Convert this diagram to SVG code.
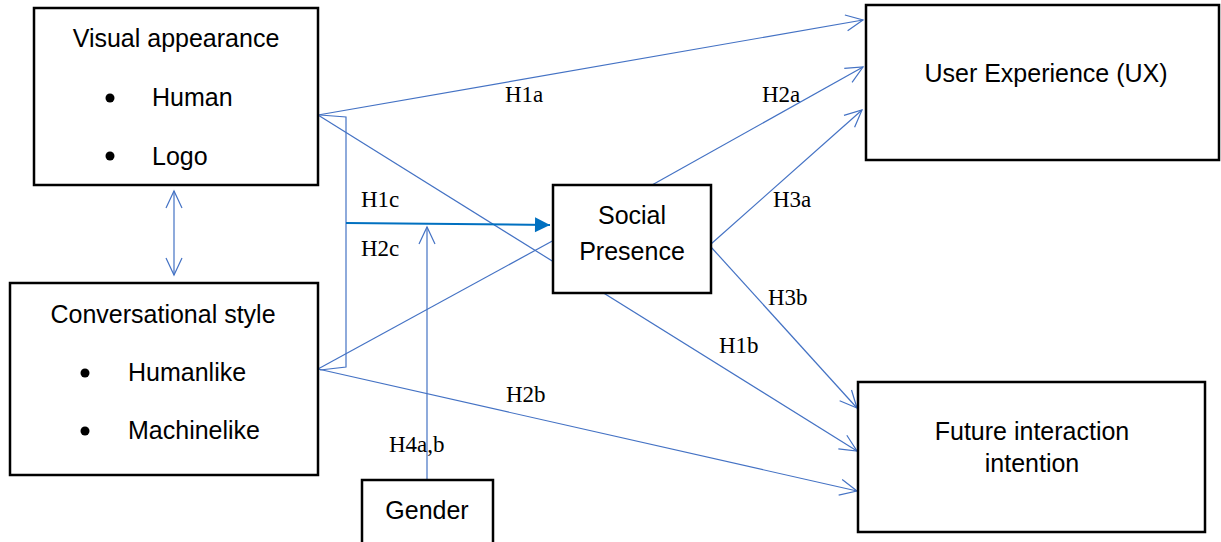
<svg xmlns="http://www.w3.org/2000/svg" width="1221" height="542" viewBox="0 0 1221 542">
<style>
.box{fill:#fff;stroke:#000;stroke-width:2.5}
.t{font-family:"Liberation Sans",Arial,sans-serif;font-size:25px;fill:#000}
.c{text-anchor:middle}
.lbl{font-family:"Liberation Serif","Times New Roman",serif;font-size:23px;fill:#000}
.ln{fill:none;stroke:#4472C4;stroke-width:1.2}
.dot{fill:#000}
</style>
<defs>
<marker id="open" viewBox="-18 -10 20 20" refX="0" refY="0" markerWidth="20" markerHeight="20" markerUnits="userSpaceOnUse" orient="auto-start-reverse">
<path d="M-17,-8 L0,0 L-17,8" fill="none" stroke="#4472C4" stroke-width="1.2"/>
</marker>
<marker id="solid" viewBox="-16 -8 17 16" refX="0" refY="0" markerWidth="17" markerHeight="16" markerUnits="userSpaceOnUse" orient="auto">
<path d="M-15,-7.5 L0,0 L-15,7.5 Z" fill="#0070C0"/>
</marker>
</defs>
<g id="connectors">
<line class="ln" x1="318" y1="115" x2="863" y2="20" marker-end="url(#open)"/>
<line class="ln" x1="318" y1="115" x2="857" y2="451" marker-end="url(#open)"/>
<line class="ln" x1="652" y1="185" x2="863" y2="67" marker-end="url(#open)"/>
<line class="ln" x1="711" y1="244" x2="862" y2="110" marker-end="url(#open)"/>
<line class="ln" x1="711" y1="247" x2="857" y2="408" marker-end="url(#open)"/>
<line class="ln" x1="318" y1="369" x2="556" y2="239"/>
<line class="ln" x1="318" y1="369" x2="857" y2="491" marker-end="url(#open)"/>
<path class="ln" d="M320,115 L346,117 L346,367 L320,370"/>
<line x1="346" y1="223" x2="550" y2="225" stroke="#0070C0" stroke-width="2" marker-end="url(#solid)"/>
<line class="ln" x1="427" y1="480" x2="427" y2="227" marker-end="url(#open)"/>
<line class="ln" x1="174" y1="191" x2="174" y2="275" marker-start="url(#open)" marker-end="url(#open)"/>
<text class="lbl" x="505" y="102">H1a</text>
<text class="lbl" x="762" y="102">H2a</text>
<text class="lbl" x="773" y="207">H3a</text>
<text class="lbl" x="361" y="207">H1c</text>
<text class="lbl" x="361" y="256">H2c</text>
<text class="lbl" x="768" y="305">H3b</text>
<text class="lbl" x="719" y="353">H1b</text>
<text class="lbl" x="506" y="402">H2b</text>
<text class="lbl" x="389" y="452">H4a,b</text>
</g>
<g id="visual">
<rect class="box" x="34" y="8" width="284" height="177"/>
<text class="t c" x="176" y="47">Visual appearance</text>
<circle class="dot" cx="110" cy="98" r="4.5"/>
<text class="t" x="152" y="106">Human</text>
<circle class="dot" cx="110" cy="156" r="4.5"/>
<text class="t" x="152" y="165">Logo</text>
</g>
<g id="conversational">
<rect class="box" x="10" y="283" width="308" height="192"/>
<text class="t c" x="163" y="323">Conversational style</text>
<circle class="dot" cx="85" cy="373" r="4.5"/>
<text class="t" x="128" y="381">Humanlike</text>
<circle class="dot" cx="85" cy="431" r="4.5"/>
<text class="t" x="128" y="439">Machinelike</text>
</g>
<g id="social">
<rect class="box" x="553" y="185" width="158" height="108"/>
<text class="t c" x="632" y="224">Social</text>
<text class="t c" x="632" y="260">Presence</text>
</g>
<g id="ux">
<rect class="box" x="866" y="5" width="353" height="155"/>
<text class="t c" x="1046" y="82">User Experience (UX)</text>
</g>
<g id="future">
<rect class="box" x="858" y="382" width="347" height="150"/>
<text class="t c" x="1032" y="440">Future interaction</text>
<text class="t c" x="1032" y="472">intention</text>
</g>
<g id="gender">
<rect class="box" x="362" y="480" width="131" height="80"/>
<text class="t c" x="427" y="519">Gender</text>
</g>
</svg>
